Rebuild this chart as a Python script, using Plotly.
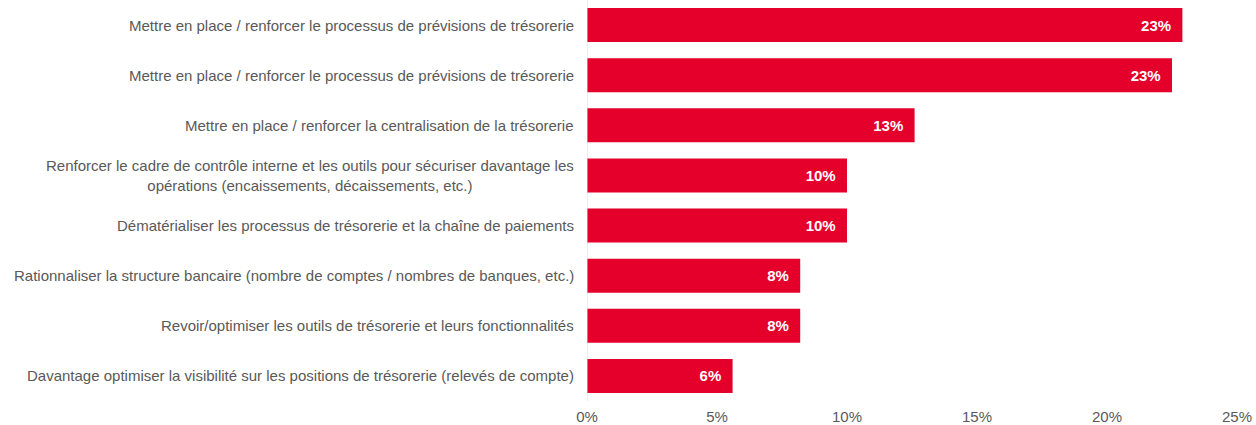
import plotly.graph_objects as go

# Data (top to bottom)
categories = [
    "Mettre en place / renforcer le processus de prévisions de trésorerie",
    "Mettre en place / renforcer le processus de prévisions de trésorerie ",
    "Mettre en place / renforcer la centralisation de la trésorerie",
    "Renforcer le cadre de contrôle interne et les outils pour sécuriser davantage les<br>opérations (encaissements, décaissements, etc.)",
    "Dématérialiser les processus de trésorerie et la chaîne de paiements",
    "Rationnaliser la structure bancaire (nombre de comptes / nombres de banques, etc.)",
    "Revoir/optimiser les outils de trésorerie et leurs fonctionnalités",
    "Davantage optimiser la visibilité sur les positions de trésorerie (relevés de compte)",
]
values = [22.9, 22.5, 12.6, 10.0, 10.0, 8.2, 8.2, 5.6]
value_labels = ["23%", "23%", "13%", "10%", "10%", "8%", "8%", "6%"]
x_ticks = [0, 5, 10, 15, 20, 25]

RED = "#E4002B"
GREY = "#595959"
FONT = "Arial, Liberation Sans, sans-serif"

fig = go.Figure(
    go.Bar(
        x=values,
        y=categories,
        orientation="h",
        marker=dict(color=RED, line=dict(width=0)),
        text=[t + "\u00a0\u00a0" for t in value_labels],
        textposition="inside",
        insidetextanchor="end",
        textfont=dict(color="white", size=15, family=FONT, weight="bold"),
        hoverinfo="skip",
    )
)

# Category labels as annotations so the wrapped label is centred like the original
for cat in categories:
    fig.add_annotation(
        x=0,
        y=cat,
        xref="x",
        yref="y",
        text=cat.strip(),
        showarrow=False,
        xanchor="right",
        xshift=-11,
        align="center",
        font=dict(size=15, color=GREY, family=FONT),
    )

fig.update_xaxes(
    range=[0, 25],
    tickvals=x_ticks,
    ticktext=[f"{v}%" for v in x_ticks],
    showgrid=False,
    zeroline=False,
    showline=False,
    automargin=False,
    ticklabelstandoff=5,
    tickfont=dict(size=15, color=GREY, family=FONT),
)
fig.update_yaxes(
    range=[7.5, -0.5],
    showticklabels=False,
    showgrid=False,
    zeroline=False,
    showline=False,
    automargin=False,
)
fig.add_shape(
    type="line", xref="x", yref="paper",
    x0=0, x1=0, y0=0, y1=1,
    line=dict(color="#d9d9d9", width=1),
)

fig.update_layout(
    width=1256,
    height=425,
    bargap=0.32,
    margin=dict(l=587, r=19, t=0, b=24),
    plot_bgcolor="white",
    paper_bgcolor="white",
    showlegend=False,
    font=dict(family=FONT),
)

# drop the default page margin so the figure fills the window exactly
fig.write_html(
    "out.html",
    config={"displayModeBar": False},
    post_script="document.body.style.margin='0';",
)
